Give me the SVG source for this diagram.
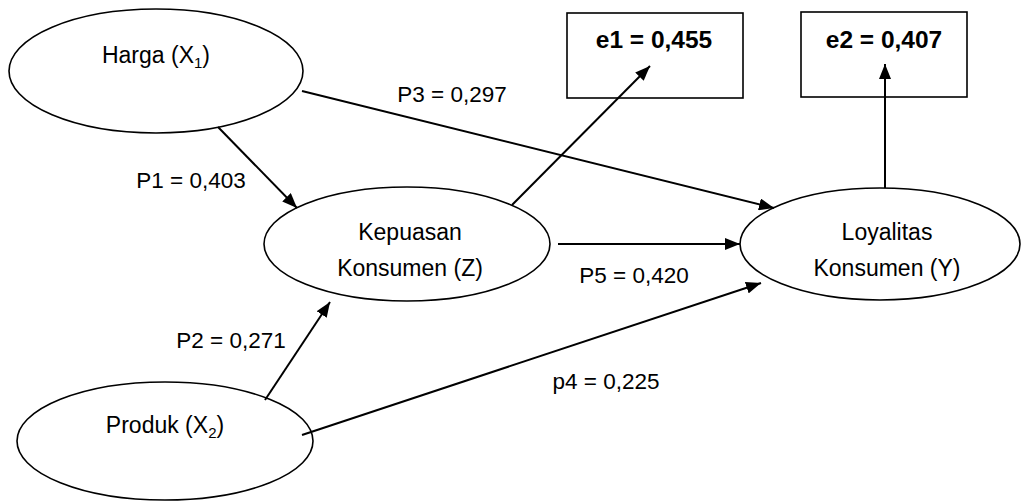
<svg xmlns="http://www.w3.org/2000/svg" width="1024" height="502" viewBox="0 0 1024 502">
<style>
.node ellipse{fill:#fff;stroke:#000;stroke-width:1.6}
.node rect{fill:#fff;stroke:#000;stroke-width:1.6}
text{font-family:"Liberation Sans",Arial,sans-serif;font-size:22.5px;fill:#000;text-anchor:middle}
.node text{font-size:23px}
.node text.b{font-weight:bold;font-size:24.5px}
.edges line{stroke:#000;stroke-width:2;marker-end:url(#ah)}
</style>
<defs>
<marker id="ah" viewBox="0 0 10 10" refX="10" refY="5" markerWidth="7.5" markerHeight="6" orient="auto" markerUnits="strokeWidth" preserveAspectRatio="none">
<path d="M0,0 L10,5 L0,10 Z" fill="#000"/>
</marker>
</defs>
<rect width="1024" height="502" fill="#fff"/>
<g id="harga" class="node"><ellipse cx="156" cy="71" rx="147" ry="62"/><text x="156" y="63">Harga (X<tspan font-size="15" dy="5">1</tspan><tspan dy="-5">)</tspan></text></g>
<g id="produk" class="node"><ellipse cx="165" cy="441" rx="148" ry="59"/><text x="165" y="433">Produk (X<tspan font-size="15" dy="5">2</tspan><tspan dy="-5">)</tspan></text></g>
<g id="kepuasan" class="node"><ellipse cx="407" cy="244" rx="143" ry="57"/><text x="410" y="240">Kepuasan</text><text x="410" y="276">Konsumen (Z)</text></g>
<g id="loyalitas" class="node"><ellipse cx="880" cy="244" rx="140" ry="56"/><text x="887" y="240">Loyalitas</text><text x="887" y="276">Konsumen (Y)</text></g>
<g id="e1" class="node"><rect x="567" y="13" width="176" height="85"/><text class="b" x="654" y="48">e1 = 0,455</text></g>
<g id="e2" class="node"><rect x="801" y="12" width="166" height="85"/><text class="b" x="884" y="48">e2 = 0,407</text></g>
<g id="connectors" class="edges">
<line x1="218" y1="127" x2="297" y2="208"/>
<line x1="302" y1="91" x2="774" y2="208"/>
<line x1="512" y1="205" x2="650" y2="66"/>
<line x1="885" y1="188" x2="885" y2="64"/>
<line x1="558" y1="244" x2="740" y2="244"/>
<line x1="265" y1="400" x2="330" y2="302"/>
<line x1="302" y1="435" x2="761" y2="283"/>
</g>
<g id="labels">
<text x="452" y="102">P3 = 0,297</text>
<text x="191" y="188">P1 = 0,403</text>
<text x="634" y="283">P5 = 0,420</text>
<text x="231" y="348">P2 = 0,271</text>
<text x="606" y="389">p4 = 0,225</text>
</g>
</svg>
